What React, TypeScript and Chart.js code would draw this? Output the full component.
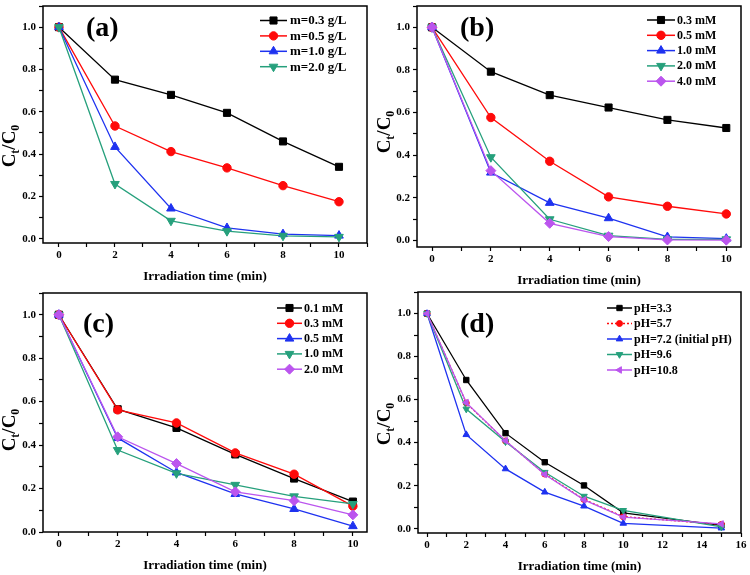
import React, { useEffect, useRef } from 'react';
import { Chart, registerables } from 'chart.js';
import { drawPoint } from 'chart.js/helpers';

Chart.register(...registerables);

const SERIF = "'Liberation Serif', 'Times New Roman', serif";

// ---------- data ----------
const timeABC = [0, 2, 4, 6, 8, 10];
const timeD = [0, 2, 4, 6, 8, 10, 15];
const xTitle = 'Irradiation time (min)';

const labelsA = ['m=0.3 g/L', 'm=0.5 g/L', 'm=1.0 g/L', 'm=2.0 g/L'];
const a03 = [1.0, 0.752, 0.68, 0.595, 0.46, 0.34];
const a05 = [1.0, 0.533, 0.412, 0.335, 0.251, 0.175];
const a10 = [1.0, 0.434, 0.143, 0.051, 0.022, 0.015];
const a20 = [1.0, 0.259, 0.085, 0.036, 0.014, 0.009];

const labelsB = ['0.3 mM', '0.5 mM', '1.0 mM', '2.0 mM', '4.0 mM'];
const b03 = [1.0, 0.792, 0.682, 0.624, 0.566, 0.528];
const b05 = [1.0, 0.577, 0.372, 0.205, 0.161, 0.125];
const b10 = [1.0, 0.319, 0.177, 0.105, 0.017, 0.009];
const b20 = [1.0, 0.391, 0.1, 0.023, 0.006, 0.006];
const b40 = [1.0, 0.328, 0.081, 0.019, 0.003, 0.002];

const labelsC = ['0.1 mM', '0.3 mM', '0.5 mM', '1.0 mM', '2.0 mM'];
const c01 = [1.0, 0.565, 0.479, 0.357, 0.246, 0.14];
const c03 = [1.0, 0.562, 0.502, 0.364, 0.266, 0.119];
const c05 = [1.0, 0.433, 0.274, 0.175, 0.106, 0.027];
const c10 = [1.0, 0.377, 0.27, 0.217, 0.164, 0.129];
const c20 = [1.0, 0.438, 0.315, 0.185, 0.144, 0.079];

const labelsD = ['pH=3.3', 'pH=5.7', 'pH=7.2 (initial pH)', 'pH=9.6', 'pH=10.8'];
const d33 = [1.0, 0.691, 0.444, 0.309, 0.201, 0.074, 0.015];
const d57 = [1.0, 0.584, 0.408, 0.254, 0.136, 0.056, 0.02];
const d72 = [1.0, 0.437, 0.278, 0.17, 0.105, 0.025, 0.003];
const d96 = [1.0, 0.556, 0.404, 0.262, 0.151, 0.085, 0.008];
const d108 = [1.0, 0.586, 0.409, 0.252, 0.134, 0.054, 0.022];

const yTickLabels = ['0.0', '0.2', '0.4', '0.6', '0.8', '1.0'];

// ---------- styles ----------
const BLACK = '#000000';
const RED = '#ff0a0a';
const BLUE = '#1e32f0';
const GREEN = '#26a07c';
const PURPLE = '#bb55ee';

type Series = {
  label: string;
  data: number[];
  color: string;
  style: any;
  rotation?: number;
  radius: number;
  dash?: number[];
};

type PanelCfg = {
  key: string;
  left: number; top: number; w: number; h: number;
  xs: number[];
  xMin: number; xMax: number; yMin: number; yMax: number;
  yW: number; xH: number; padTop: number; padRight: number; titlePad: number;
  tag: string; tagX: number; tagY: number;
  yTitleX: number; yTitleY: number;
  legend: { x0: number; x1: number; tx: number; y0: number; dy: number; font: number };
  series: Series[];
};

const mk = (labels: string[], datas: number[][], colors: string[], styles: any[], rots: number[], radii: number[], dashes: (number[] | undefined)[]): Series[] =>
  labels.map((label, i) => ({ label, data: datas[i], color: colors[i], style: styles[i], rotation: rots[i], radius: radii[i], dash: dashes[i] }));

const panels: PanelCfg[] = [
  {
    key: 'a', left: 0, top: 0, w: 375, h: 287, xs: timeABC,
    xMin: -0.57, xMax: 11, yMin: -0.02, yMax: 1.1,
    yW: 43, xH: 44, padTop: 3, padRight: 8, titlePad: 3.5,
    tag: '(a)', tagX: 86, tagY: 29, yTitleX: 9, yTitleY: 146,
    legend: { x0: 260, x1: 287, tx: 290, y0: 20.5, dy: 15.4, font: 13 },
    series: mk(labelsA, [a03, a05, a10, a20], [BLACK, RED, BLUE, GREEN],
      ['rect', 'circle', 'triangle', 'triangle'], [0, 0, 0, 180], [5, 4.2, 5, 5], [undefined, undefined, undefined, undefined]),
  },
  {
    key: 'b', left: 375, top: 0, w: 375, h: 287, xs: timeABC,
    xMin: -0.51, xMax: 10.5, yMin: -0.03, yMax: 1.1,
    yW: 42, xH: 40, padTop: 5, padRight: 9, titlePad: 0,
    tag: '(b)', tagX: 85, tagY: 29, yTitleX: 9, yTitleY: 132,
    legend: { x0: 272, x1: 300, tx: 302, y0: 20, dy: 15.3, font: 12 },
    series: mk(labelsB, [b03, b05, b10, b20, b40], [BLACK, RED, BLUE, GREEN, PURPLE],
      ['rect', 'circle', 'triangle', 'triangle', 'rectRot'], [0, 0, 0, 180, 0], [5, 4.2, 5, 5, 5], [undefined, undefined, undefined, undefined, undefined]),
  },
  {
    key: 'c', left: 0, top: 287, w: 375, h: 288, xs: timeABC,
    xMin: -0.54, xMax: 10.48, yMin: 0, yMax: 1.1,
    yW: 43, xH: 43, padTop: 3, padRight: 8, titlePad: 2.5,
    tag: '(c)', tagX: 83, tagY: 38, yTitleX: 9, yTitleY: 143,
    legend: { x0: 277, x1: 302, tx: 304, y0: 21, dy: 15.3, font: 12 },
    series: mk(labelsC, [c01, c03, c05, c10, c20], [BLACK, RED, BLUE, GREEN, PURPLE],
      ['rect', 'circle', 'triangle', 'triangle', 'rectRot'], [0, 0, 0, 180, 0], [5, 4.2, 5, 5, 5], [undefined, undefined, undefined, undefined, undefined]),
  },
  {
    key: 'd', left: 375, top: 287, w: 375, h: 288, xs: timeD,
    xMin: -0.46, xMax: 16, yMin: -0.02, yMax: 1.1,
    yW: 43, xH: 42, padTop: 3, padRight: 9, titlePad: 2,
    tag: '(d)', tagX: 85, tagY: 38, yTitleX: 9, yTitleY: 137,
    legend: { x0: 232, x1: 257, tx: 259, y0: 21, dy: 15.5, font: 12 },
    series: mk(labelsD, [d33, d57, d72, d96, d108], [BLACK, RED, BLUE, GREEN, PURPLE],
      ['rect', 'circle', 'triangle', 'triangle', 'triangle'], [0, 0, 0, 180, 270], [3.8, 3, 3.8, 3.8, 3.8], [undefined, [2, 2], undefined, undefined, undefined]),
  },
];

function makePlugins(cfg: PanelCfg) {
  const frame = {
    id: 'frame',
    afterDatasetsDraw(chart: any) {
      const { ctx, chartArea: a } = chart;
      ctx.save();
      ctx.strokeStyle = '#000';
      ctx.lineWidth = 1.5;
      ctx.strokeRect(a.left, a.top, a.right - a.left, a.bottom - a.top);
      ctx.restore();
    },
  };
  const deco = {
    id: 'deco',
    afterDraw(chart: any) {
      const ctx = chart.ctx;
      ctx.save();
      // panel tag
      ctx.fillStyle = '#000';
      ctx.font = `bold 28px ${SERIF}`;
      ctx.textBaseline = 'middle';
      ctx.textAlign = 'left';
      ctx.fillText(cfg.tag, cfg.tagX, cfg.tagY);
      // legend
      const L = cfg.legend;
      cfg.series.forEach((s, i) => {
        const y = L.y0 + i * L.dy;
        ctx.save();
        ctx.strokeStyle = s.color;
        ctx.lineWidth = 1.5;
        ctx.setLineDash(s.dash || []);
        ctx.beginPath();
        ctx.moveTo(L.x0, y);
        ctx.lineTo(L.x1, y);
        ctx.stroke();
        ctx.setLineDash([]);
        ctx.fillStyle = s.color;
        ctx.strokeStyle = s.color;
        ctx.lineWidth = 1;
        drawPoint(ctx, { pointStyle: s.style, rotation: s.rotation || 0, radius: s.radius, borderWidth: 1 } as any, (L.x0 + L.x1) / 2, y);
        ctx.restore();
        ctx.fillStyle = '#000';
        ctx.font = `bold ${L.font}px ${SERIF}`;
        ctx.textBaseline = 'middle';
        ctx.fillText(s.label, L.tx, y + 0.5);
      });
      // y title C_t/C_0
      ctx.translate(cfg.yTitleX, cfg.yTitleY);
      ctx.rotate(-Math.PI / 2);
      ctx.textBaseline = 'alphabetic';
      const big = `bold 19px ${SERIF}`;
      const small = `bold 12px ${SERIF}`;
      const parts: [string, string, number][] = [['C', big, 0], ['t', small, 4], ['/C', big, 0], ['0', small, 4]];
      let total = 0;
      const widths = parts.map(([t, f]) => { ctx.font = f; const w = ctx.measureText(t).width; total += w; return w; });
      let x = -total / 2;
      parts.forEach(([t, f, dy], i) => {
        ctx.font = f;
        ctx.fillText(t, x, 6 + dy);
        x += widths[i];
      });
      ctx.restore();
    },
  };
  return [frame, deco];
}

function Panel({ cfg }: { cfg: PanelCfg }) {
  const ref = useRef<HTMLCanvasElement>(null);
  useEffect(() => {
    const tickFont = { family: SERIF, weight: 'bold' as const, size: 11 };
    const chart = new Chart(ref.current as HTMLCanvasElement, {
      type: 'line',
      data: {
        datasets: cfg.series.map((s, i) => ({
          label: s.label,
          data: cfg.xs.map((x, j) => ({ x, y: s.data[j] })),
          borderColor: s.color,
          backgroundColor: s.color,
          borderWidth: 1.3,
          borderDash: s.dash || [],
          pointStyle: s.style,
          pointRotation: s.rotation || 0,
          pointRadius: s.radius,
          pointBorderWidth: 1,
          pointBackgroundColor: s.color,
          pointBorderColor: s.color,
          tension: 0,
          order: -i,
          clip: false as any,
        })),
      },
      options: {
        animation: false,
        responsive: false,
        devicePixelRatio: 1,
        events: [],
        layout: { padding: { top: cfg.padTop, right: cfg.padRight, left: 0, bottom: 0 } },
        plugins: { legend: { display: false }, tooltip: { enabled: false } },
        scales: {
          x: {
            type: 'linear',
            min: cfg.xMin,
            max: cfg.xMax,
            border: { display: false },
            grid: { drawOnChartArea: false, drawTicks: true, tickLength: 4, color: '#000', tickColor: '#000', tickWidth: 1.2 },
            ticks: {
              stepSize: 1,
              autoSkip: false,
              maxRotation: 0,
              minRotation: 0,
              includeBounds: false,
              padding: 2,
              color: '#000',
              font: tickFont,
              callback: (v: any) => {
                const n = Number(v);
                return Math.abs(n - Math.round(n)) < 1e-6 && Math.round(n) % 2 === 0 && n >= 0 ? String(Math.round(n)) : '';
              },
            },
            title: {
              display: true,
              text: xTitle,
              color: '#000',
              font: { family: SERIF, weight: 'bold', size: 13, lineHeight: 1 },
              padding: { top: 0, bottom: cfg.titlePad },
            },
            afterFit: (s: any) => {
              s.height = cfg.xH;
              s.paddingLeft = 0; s.paddingRight = 0; s.paddingTop = 0; s.paddingBottom = 0;
            },
          },
          y: {
            type: 'linear',
            min: cfg.yMin,
            max: cfg.yMax,
            border: { display: false },
            grid: { drawOnChartArea: false, drawTicks: true, tickLength: 4, color: '#000', tickColor: '#000', tickWidth: 1.2 },
            ticks: {
              stepSize: 0.1,
              autoSkip: false,
              includeBounds: false,
              padding: 3,
              color: '#000',
              font: tickFont,
              callback: (v: any) => {
                const r = Math.round(Number(v) * 10);
                if (Math.abs(Number(v) * 10 - r) > 1e-6 || r % 2 !== 0 || r < 0 || r > 10) return '';
                return yTickLabels[r / 2];
              },
            },
            afterFit: (s: any) => {
              s.width = cfg.yW;
              s.paddingLeft = 0; s.paddingRight = 0; s.paddingTop = 0; s.paddingBottom = 0;
            },
          },
        },
      } as any,
      plugins: makePlugins(cfg),
    });
    return () => chart.destroy();
  }, []);
  return (
    <canvas
      ref={ref}
      width={cfg.w}
      height={cfg.h}
      style={{ position: 'absolute', left: cfg.left, top: cfg.top, width: cfg.w, height: cfg.h }}
    />
  );
}

export default function App() {
  return (
    <div style={{ position: 'fixed', left: 0, top: 0, width: 750, height: 575, background: '#fff', overflow: 'hidden' }}>
      {panels.map((p) => (
        <Panel key={p.key} cfg={p} />
      ))}
    </div>
  );
}
